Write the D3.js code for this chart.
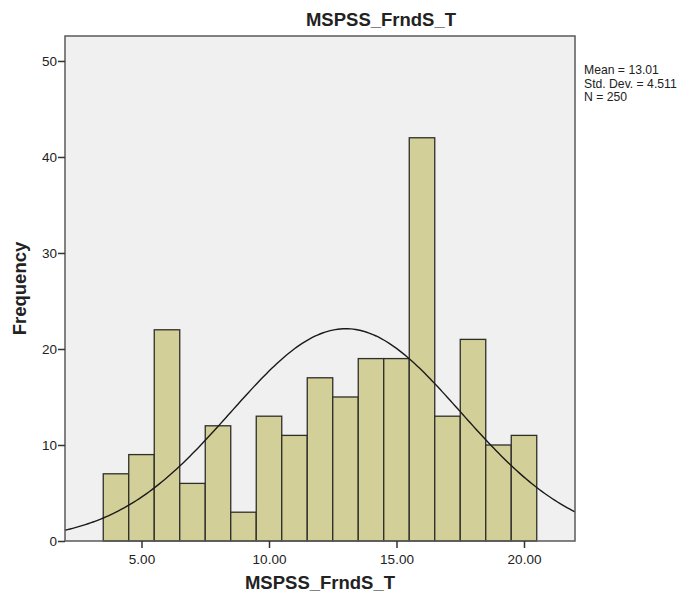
<!DOCTYPE html>
<html>
<head>
<meta charset="utf-8">
<script src="https://cdn.jsdelivr.net/npm/d3@7"></script>
<style>
  body { margin: 0; background: #fff; }
  svg text { font-family: Arial, "Liberation Sans", sans-serif; fill: #222; }
</style>
</head>
<body>
<svg id="chart" width="687" height="598"></svg>
<script>
// histogram bins (bin centres, width 1) and counts
const binCentres = [4, 5, 6, 7, 8, 9, 10, 11, 12, 13, 14, 15, 16, 17, 18, 19, 20];
const counts = [7, 9, 22, 6, 12, 3, 13, 11, 17, 15, 19, 19, 42, 13, 21, 10, 11];
const xTicks = [5, 10, 15, 20];
const yTicks = [0, 10, 20, 30, 40, 50];
const stats = { mean: 13.01, sd: 4.511, n: 250 };
const statLines = ['Mean = 13.01', 'Std. Dev. = 4.511', 'N = 250'];
const title = 'MSPSS_FrndS_T';

// margin conventions
const margin = { top: 36, right: 112, bottom: 57, left: 65 };
const width = 687 - margin.left - margin.right;
const height = 598 - margin.top - margin.bottom;

const svg = d3.select('#chart');
const g = svg.append('g').attr('transform', 'translate(' + margin.left + ',' + margin.top + ')');

const x = d3.scaleLinear().domain([2, 22]).range([0, width]);
const y = d3.scaleLinear().domain([0, 52.6]).range([height, 0]);

// plot background
g.append('rect')
  .attr('width', width).attr('height', height)
  .attr('fill', '#f0f0f0');

// bars
g.append('g').selectAll('rect')
  .data(binCentres)
  .enter().append('rect')
  .attr('x', (d) => x(d - 0.5))
  .attr('width', (d) => x(d + 0.5) - x(d - 0.5))
  .attr('y', (d, i) => y(counts[i]))
  .attr('height', (d, i) => y(0) - y(counts[i]))
  .attr('fill', '#d3cf98')
  .attr('stroke', '#2e2e2a')
  .attr('stroke-width', 1.3);

// fitted normal curve from the reported mean / sd / N
const normal = (v) => stats.n * 1 / (stats.sd * Math.sqrt(2 * Math.PI)) *
  Math.exp(-0.5 * Math.pow((v - stats.mean) / stats.sd, 2));
const curvePts = d3.range(2, 22.01, 0.1);
g.append('path')
  .datum(curvePts)
  .attr('fill', 'none')
  .attr('stroke', '#1a1a1a')
  .attr('stroke-width', 1.4)
  .attr('d', d3.line().x((d) => x(d)).y((d) => y(normal(d))));

// frame
g.append('rect')
  .attr('width', width).attr('height', height)
  .attr('fill', 'none')
  .attr('stroke', '#5a5a5a')
  .attr('stroke-width', 1.5);

// axes
const xAxis = g.append('g')
  .attr('transform', 'translate(0,' + height + ')')
  .call(d3.axisBottom(x).tickValues(xTicks).tickFormat(d3.format('.2f')).tickSize(7).tickSizeOuter(0));
const yAxis = g.append('g')
  .call(d3.axisLeft(y).tickValues(yTicks).tickSize(7).tickSizeOuter(0));

[xAxis, yAxis].forEach((ax) => {
  ax.select('.domain').remove();
  ax.selectAll('line').attr('stroke', '#333').attr('stroke-width', 1.5);
  ax.selectAll('text').attr('font-size', 13.5).attr('fill', '#333')
    .attr('font-family', 'Arial, "Liberation Sans", sans-serif');
});
xAxis.selectAll('text').attr('dy', '0.95em');
yAxis.selectAll('text').attr('x', -8);

// titles
svg.append('text')
  .attr('x', 381).attr('y', 26)
  .attr('text-anchor', 'middle')
  .attr('font-size', 18.5).attr('font-weight', 'bold')
  .text(title);

svg.append('text')
  .attr('x', margin.left + width / 2).attr('y', 589)
  .attr('text-anchor', 'middle')
  .attr('font-size', 18.5).attr('font-weight', 'bold')
  .text(title);

svg.append('text')
  .attr('transform', 'translate(26,' + (margin.top + height / 2) + ') rotate(-90)')
  .attr('text-anchor', 'middle')
  .attr('font-size', 18.5).attr('font-weight', 'bold')
  .text('Frequency');

// statistics box text
svg.append('g').selectAll('text')
  .data(statLines)
  .enter().append('text')
  .attr('x', 584)
  .attr('y', (d, i) => 74 + i * 13.6)
  .attr('font-size', 12.2)
  .text((d) => d);
</script>
</body>
</html>
